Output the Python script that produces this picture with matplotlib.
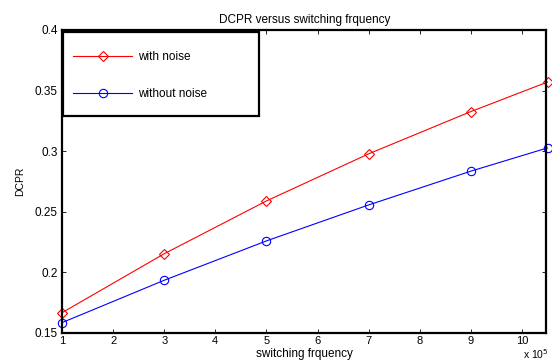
import matplotlib.pyplot as plt
from matplotlib.patches import Rectangle

plt.rcParams['font.family'] = ['Liberation Sans', 'DejaVu Sans']

# switching frequency (Hz) and DC power ratio for both cases
freq = [1e5, 3e5, 5e5, 7e5, 9e5, 10.5e5]
dcpr_noise = [0.1665, 0.2152, 0.2588, 0.2977, 0.3326, 0.3570]
dcpr_clean = [0.1583, 0.1933, 0.2258, 0.2555, 0.2834, 0.3026]
xticks = [1, 2, 3, 4, 5, 6, 7, 8, 9, 10]
yticks = [0.15, 0.2, 0.25, 0.3, 0.35, 0.4]
ytick_labels = ['0.15', '0.2', '0.25', '0.3', '0.35', '0.4']

fig = plt.figure(figsize=(5.52, 3.61), dpi=100)
ax = fig.add_axes([0.1123, 0.0784, 0.8777, 0.8386])

x = [f / 1e5 for f in freq]
ax.plot(x, dcpr_noise, color='red', lw=0.8, marker='D', ms=5, mfc='none',
        mew=0.8, label='with noise', clip_on=False)
ax.plot(x, dcpr_clean, color='blue', lw=0.8, marker='o', ms=6, mfc='none',
        mew=0.8, label='without noise', clip_on=False)

ax.set_xlim(1, 10.48)
ax.set_ylim(0.15, 0.4)
ax.set_xticks(xticks)
ax.set_yticks(yticks)
ax.set_yticklabels(ytick_labels)
ax.tick_params(direction='in', length=3, width=0.6, labelsize=8.5,
               top=True, right=True, pad=3)
ax.tick_params(axis='x', labelsize=8, pad=2.5)
for s in ax.spines.values():
    s.set_linewidth(1.6)

ax.set_title('DCPR versus switching frquency', fontsize=8.5, pad=5)
ax.set_xlabel('switching frquency', fontsize=8.5, labelpad=1)
ax.set_ylabel('DCPR', fontsize=7.5, labelpad=7)
# exponent for the x axis, MATLAB style
ax.text(1.005, -0.047, r'x 10$^5$', transform=ax.transAxes, fontsize=7.5,
        ha='right', va='top')

# legend box drawn separately so the padding can be set per side
box = Rectangle((0.003, 0.716), 0.404, 0.278, transform=ax.transAxes,
                facecolor='white', edgecolor='black', lw=1.6, zorder=4)
ax.add_patch(box)
leg = ax.legend(loc='upper left', bbox_to_anchor=(0.0227, 0.930),
                borderaxespad=0, borderpad=0, fontsize=8.5, frameon=False,
                handlelength=5.0, handletextpad=0.55, labelspacing=2.1)
leg.set_zorder(5)

fig.savefig('out.png', dpi=100)
